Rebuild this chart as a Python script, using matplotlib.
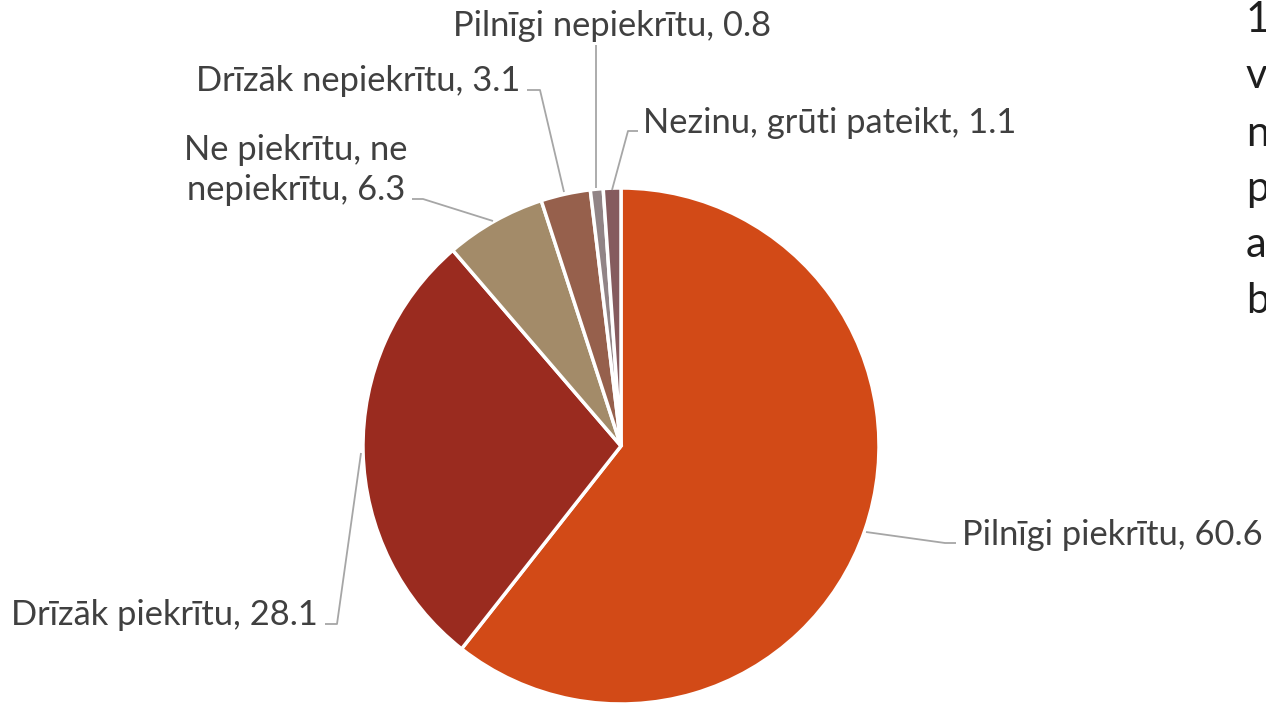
import matplotlib
matplotlib.use("Agg")
import matplotlib.pyplot as plt

W, H = 1266, 706

categories = ["Pilnīgi piekrītu", "Drīzāk piekrītu", "Ne piekrītu, ne\nnepiekrītu",
              "Drīzāk nepiekrītu", "Pilnīgi nepiekrītu", "Nezinu, grūti pateikt"]
values = [60.6, 28.1, 6.3, 3.1, 0.8, 1.1]
colors = ["#D24A17", "#9A2B1F", "#A38B69", "#96604C", "#918486", "#855B5E"]
side_letters = ["1", "v", "n", "p", "a", "b"]

# label layout (pixel coords from top-left): text anchor, ha, leader polyline
label_layout = [
    dict(xy=(962, 545), ha="left", line=[(866, 532), (945, 543), (956, 543)]),
    dict(xy=(318, 625), ha="right", line=[(361, 453), (337, 624), (325, 624)]),
    dict(xy=(408, 200), ha="right", line=[(493, 221), (423, 199), (412, 199)]),
    dict(xy=(520, 91), ha="right", line=[(564, 192), (540, 90), (527, 90)]),
    dict(xy=(612, 36), ha="center", line=[(596, 188), (596, 45)]),
    dict(xy=(643, 133), ha="left", line=[(612, 190), (628, 131), (638, 131)]),
]

plt.rcParams['font.family'] = ['Lato', 'DejaVu Sans']

fig = plt.figure(figsize=(W / 100, H / 100), dpi=100)
ax = fig.add_axes([0, 0, 1, 1])
ax.set_xlim(0, W)
ax.set_ylim(0, H)
ax.set_aspect("equal")
ax.axis("off")

ax.pie(values, colors=colors, startangle=90, counterclock=False,
       center=(621, H - 446), radius=258,
       wedgeprops=dict(edgecolor="white", linewidth=2.5))
ax.set_xlim(0, W)
ax.set_ylim(0, H)

for cat, val, lay in zip(categories, values, label_layout):
    xs = [p[0] for p in lay["line"]]
    ys = [H - p[1] for p in lay["line"]]
    ax.plot(xs, ys, color="#A6A6A6", lw=1.3, solid_capstyle="butt")
    ax.text(lay["xy"][0], H - lay["xy"][1], f"{cat}, {val}", ha=lay["ha"],
            va="baseline", fontsize=24.8, color="#404040",
            multialignment="center", linespacing=1.3)

baselines = [32, 88, 146, 201, 257, 313]
for letter, b in zip(side_letters, baselines):
    ax.text(1246, H - b, letter, ha="left", va="baseline", fontsize=30,
            color="#1E1E1E")

fig.savefig("out.png", dpi=100)
